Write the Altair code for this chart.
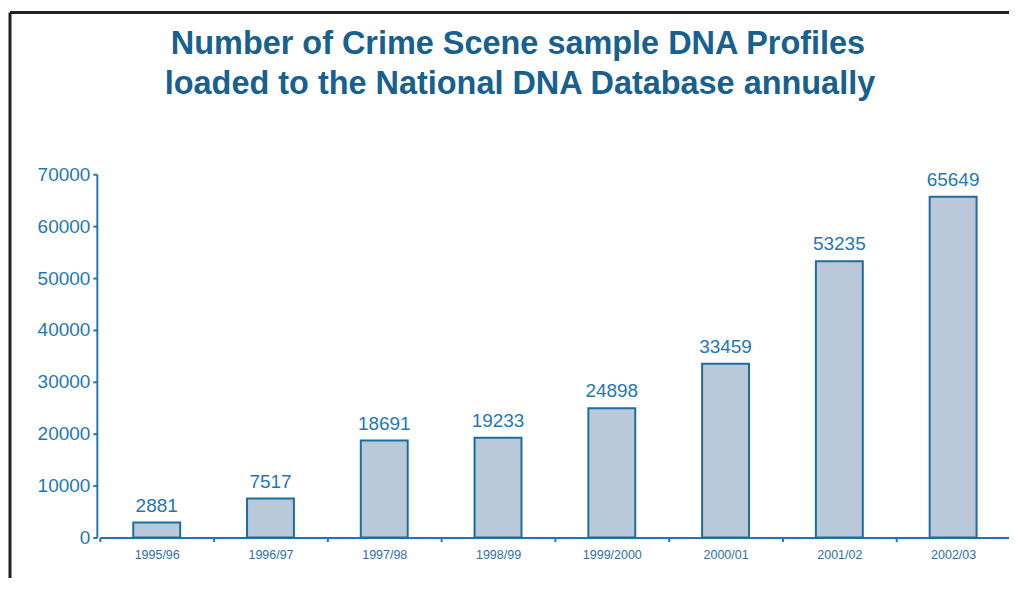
import altair as alt
import pandas as pd

years = ["1995/96", "1996/97", "1997/98", "1998/99", "1999/2000", "2000/01", "2001/02", "2002/03"]
profiles = [2881, 7517, 18691, 19233, 24898, 33459, 53235, 65649]
title_lines = ["Number of Crime Scene sample DNA Profiles", "loaded to the National DNA Database annually"]

df = pd.DataFrame({"year": years, "profiles": profiles})
one = pd.DataFrame({"k": [0]})

W, H = 914, 364
BLUE = "#1f78b4"
DARK = "#17608f"

x = alt.X("year:N", sort=years, title=None,
          scale=alt.Scale(paddingInner=0, paddingOuter=0, range=[3, 915]),
          axis=alt.Axis(labelAngle=0, labelFont="Liberation Sans", labelFontSize=12.5,
                        labelColor="#2f6fa8", domainColor=BLUE, domainWidth=2,
                        tickColor=BLUE, tickWidth=2, tickSize=4, tickBand="extent",
                        labelPadding=7, grid=False))
y = alt.Y("profiles:Q", title=None,
          scale=alt.Scale(domain=[0, 70000]),
          axis=alt.Axis(values=list(range(0, 70001, 10000)), grid=False, format="d",
                        labelFont="Liberation Sans", labelFontSize=19, labelColor=BLUE,
                        domainColor=BLUE, domainWidth=2, tickColor=BLUE, tickWidth=2,
                        tickSize=4, labelPadding=3))

bars = alt.Chart(df).mark_bar(fill="#bac9da", stroke="#1a6fa0", strokeWidth=2, width=47).encode(x=x, y=y)
labels = alt.Chart(df).mark_text(dy=-17, font="Liberation Sans", fontSize=19, color=BLUE).encode(
    x=alt.X("year:N", sort=years), y=alt.Y("profiles:Q"), text="profiles:Q")

title1 = alt.Chart(one).mark_text(font="Liberation Sans", fontSize=32.5, fontWeight="bold",
                                  color=DARK, baseline="alphabetic", text=title_lines[0]).encode(
    x=alt.value(W / 2 - 35), y=alt.value(-120))
title2 = alt.Chart(one).mark_text(font="Liberation Sans", fontSize=32.5, fontWeight="bold",
                                  color=DARK, baseline="alphabetic", text=title_lines[1]).encode(
    x=alt.value(W / 2 - 33), y=alt.value(-80))

right_line = alt.Chart(one).mark_rule(color="#8fbfe0", strokeWidth=2).encode(
    x=alt.value(W + 1), y=alt.value(0), y2=alt.value(H))
frame_left = alt.Chart(one).mark_rule(color="#222222", strokeWidth=3).encode(
    x=alt.value(-87), y=alt.value(-162), y2=alt.value(H + 60))
frame_top = alt.Chart(one).mark_rule(color="#222222", strokeWidth=3).encode(
    x=alt.value(-87), x2=alt.value(W + 20), y=alt.value(-162))

chart = alt.layer(frame_left, frame_top, right_line, bars, labels, title1, title2).properties(
    width=W, height=H,
    padding={"left": 89, "top": 166, "right": 0, "bottom": 40},
    autosize="none",
    background="white",
).configure_view(strokeOpacity=0, strokeWidth=0).configure_axis(grid=False)

chart.save("out.html", embed_options={"renderer": "svg", "actions": False})
